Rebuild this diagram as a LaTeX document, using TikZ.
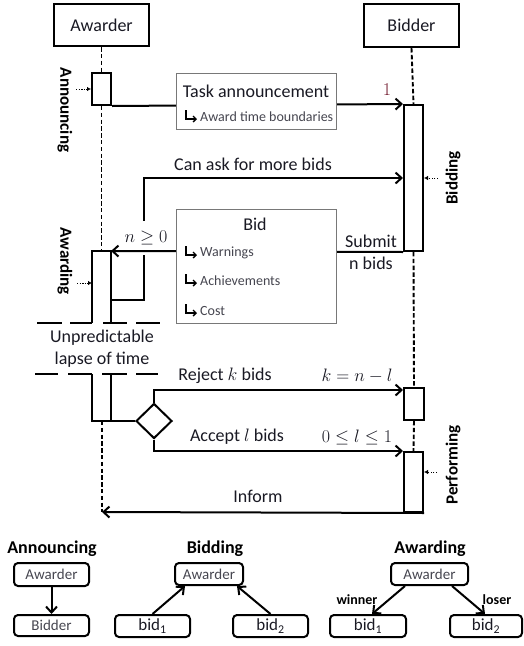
\RequirePackage{fix-cm}
\documentclass[tikz,border=0pt]{standalone}
\usepackage{fontspec}
\setmainfont{Carlito}
\usetikzlibrary{arrows.meta,shapes.geometric,calc}
\newcommand\fsz[1]{\fontsize{#1}{#1}\selectfont}
\definecolor{txt}{RGB}{25,25,35}
\definecolor{graytxt}{RGB}{70,70,80}
\definecolor{boxgray}{RGB}{120,120,120}
\definecolor{oneRed}{RGB}{110,20,40}
\tikzset{
  ln/.style={line width=2pt},
  arr/.style={ln,-{Straight Barb[length=6pt,width=11pt,line width=2pt]}},
  hook/.style={line width=1.4pt,-{Straight Barb[length=3pt,width=6pt,line width=1.4pt]}},
  life/.style={line width=1.9pt,dash pattern=on 4.4pt off 2.4pt},
  headbox/.style={draw,line width=2.2pt,fill=white,inner sep=0pt,font=\fsz{18},text=txt},
  actbox/.style={draw,line width=2pt,fill=white,inner sep=0pt,minimum width=19pt},
  msgbox/.style={draw=boxgray,line width=0.9pt,fill=white,inner sep=0pt},
  lbl/.style={inner sep=0pt,font=\fsz{18},text=txt},
  mlbl/.style={inner sep=0pt,font=\fsz{18},text=txt},
  small/.style={inner sep=0pt,font=\fsz{14},text=graytxt,anchor=west},
  phase/.style={inner sep=0pt,font=\fsz{17}\bfseries,text=black},
  dotarr/.style={line width=1pt,dash pattern=on 1.3pt off 1.3pt,-{Latex[length=4pt,width=4.5pt]}},
  lapse/.style={line width=2.2pt},
  rbox/.style={draw,rounded corners=4pt,line width=2pt,inner sep=0pt,font=\fsz{15},text=graytxt},
  bidbox/.style={draw,rounded corners=4pt,line width=2pt,inner sep=0pt,font=\fsz{17},text=txt},
  title/.style={inner sep=0pt,font=\fsz{18}\bfseries,text=black},
  wl/.style={inner sep=0pt,font=\fsz{14}\bfseries,text=black}
}
\begin{document}
\begin{tikzpicture}[x=1pt,y=-1pt]
\useasboundingbox (0,0) rectangle (524,646);
% heads
\node[headbox,minimum width=95pt,minimum height=42pt] (awarder) at (101.5,25) {Awarder};
\node[headbox,minimum width=95pt,minimum height=43pt] (bidder) at (411.5,25.5) {Bidder};
% coordinates
\coordinate (awtopL) at (92,251);
\coordinate (awtopR) at (111,251);
\coordinate (lifeA) at (102,421);
\coordinate (informend) at (102,512);
% activation boxes
\node[actbox,minimum height=32pt] (act1) at (101.5,89) {};
\node[actbox,minimum height=146pt] (bidact) at (413.5,178) {};
\node[actbox,minimum width=20pt,minimum height=32pt] (rej) at (414,404) {};
\node[actbox,minimum height=60pt] (perf) at (413.5,482) {};
% lifelines
\draw[life] (awarder.south) -- (act1.north);
\draw[life] (act1.south) -- (101.5,251);
\draw[life] (lifeA) -- (informend);
\draw[life] (bidder.south) -- (bidact.north);
\draw[life] (bidact.south) -- (rej.north);
\draw[life] (rej.south) -- (perf.north);
% awarding activation (open box)
\draw[ln] (92,323) -- (awtopL) -- (awtopR) -- (111,323);
% lapse dashes
\draw[lapse] (37,323) -- (62,323) (70,323) -- (92,323) (103,323) -- (127,323) (136,323) -- (160,323);
\draw[lapse] (35,374) -- (58,374) (68,374) -- (92,374) (102,374) -- (127,374) (136,374) -- (158,374);
\node[lbl] (unpred) at (102,338) {Unpredictable};
\node[lbl] (lapsetxt) at (102,360) {lapse of time};
% diamond
\node[draw,diamond,ln,fill=white,minimum width=36pt,minimum height=35pt,inner sep=0pt] (dia) at (154,421) {};
\draw[ln] (92,374) -- (92,421) -- (dia.west);
\draw[ln] (111,374) -- (111,421);
% task announcement
\draw[arr] (act1.south east) -- (bidact.north west);
\node[msgbox,minimum width=160pt,minimum height=56pt] (task) at (256,101) {};
\node[lbl] (tasktxt) at (256,91) {Task announcement};
\coordinate (h0) at (186,110);
\draw[hook] (h0) -- ++(0,9) -- ++(11,0);
\node[small] (awt) at (200,117) {Award time boundaries};
\node[inner sep=0pt,font=\fsz{18},text=oneRed] (one) at (387,90) {$1$};
% can ask loop
\draw[arr] (111,300) -- (144,300) -- (144,178) -- (bidact.west);
\node[lbl] (canask) at (253,164) {Can ask for more bids};
\node[mlbl,fill=white,minimum height=34pt,inner xsep=2pt] (ngeq) at (146,238) {$n\geq 0$};
% bid arrow and box
\draw[arr] (bidact.south west) -- (awtopR);
\node[msgbox,minimum width=160pt,minimum height=114pt] (bid) at (256,266) {};
\node[lbl] (bidtitle) at (255,224) {Bid};
\coordinate (h1) at (186,246);
\coordinate (h2) at (186,274);
\coordinate (h3) at (186,304);
\draw[hook] (h1) -- ++(0,9) -- ++(11,0);
\draw[hook] (h2) -- ++(0,9) -- ++(11,0);
\draw[hook] (h3) -- ++(0,9) -- ++(11,0);
\node[small] (warn) at (200,253) {Warnings};
\node[small] (ach) at (200,281) {Achievements};
\node[small] (cost) at (200,311) {Cost};
\node[lbl] (submit) at (371,241) {Submit};
\node[lbl] (nbids) at (371,263) {n bids};
% reject / accept
\draw[arr] (dia.north) |- (rej.west |- 0,390);
\draw[arr] (dia.south) |- (perf.north west);
\node[lbl] (reject) at (225,376) {Reject $k$ bids};
\node[mlbl] (keq) at (357,376) {$k=n-l$};
\node[lbl] (accept) at (237,437) {Accept $l$ bids};
\node[mlbl] (lle) at (357,437) {$0\leq l\leq 1$};
% inform
\draw[arr] (perf.south east) -- (informend);
\node[lbl] (inform) at (258,496) {Inform};
% phase labels
\node[phase,rotate=-90] (pann) at (65,110) {Announcing};
\node[phase,rotate=-90] (pawd) at (65,261) {Awarding};
\node[phase,rotate=90] (pbid) at (453,178) {Bidding};
\node[phase,rotate=90] (pperf) at (453,465) {Performing};
\coordinate (d1) at (76,89);
\coordinate (d2) at (77,283);
\coordinate (d3) at (438,178);
\coordinate (d4) at (437,472);
\draw[dotarr] (d1) -- (act1.west);
\draw[dotarr] (d2) -- (92,283);
\draw[dotarr] (d3) -- (bidact.east);
\draw[dotarr] (d4) -- (perf.east |- d4);
% bottom diagrams
\node[title] (tann) at (52,549) {Announcing};
\node[title] (tbid) at (215,549) {Bidding};
\node[title] (tawd) at (430,549) {Awarding};
\node[rbox,minimum width=75pt,minimum height=23pt] (aaw) at (51.5,574.5) {Awarder};
\node[rbox,minimum width=75pt,minimum height=21pt] (abd) at (51.5,625.5) {Bidder};
\draw[arr] (aaw.south) -- (abd.north);
\node[rbox,minimum width=68pt,minimum height=22pt] (baw) at (209,574) {Awarder};
\node[bidbox,minimum width=75pt,minimum height=22pt] (bb1) at (152.5,626) {bid\textsubscript{1}};
\node[bidbox,minimum width=75pt,minimum height=22pt] (bb2) at (270.5,626) {bid\textsubscript{2}};
\draw[arr] (bb1.north) -- ([xshift=-24pt]baw.south);
\draw[arr] (bb2.north) -- ([xshift=28pt]baw.south);
\node[rbox,minimum width=77pt,minimum height=22pt] (caw) at (429.5,574) {Awarder};
\node[bidbox,minimum width=76pt,minimum height=22pt] (cb1) at (368,626) {bid\textsubscript{1}};
\node[bidbox,minimum width=72pt,minimum height=22pt] (cb2) at (486,626) {bid\textsubscript{2}};
\draw[arr] ([xshift=-24.5pt]caw.south) -- ([xshift=4pt]cb1.north);
\draw[arr] ([xshift=22.5pt]caw.south) -- ([xshift=-1pt]cb2.north);
\node[wl] (winner) at (357,600) {winner};
\node[wl] (loser) at (497,600) {loser};
\end{tikzpicture}
\end{document}
